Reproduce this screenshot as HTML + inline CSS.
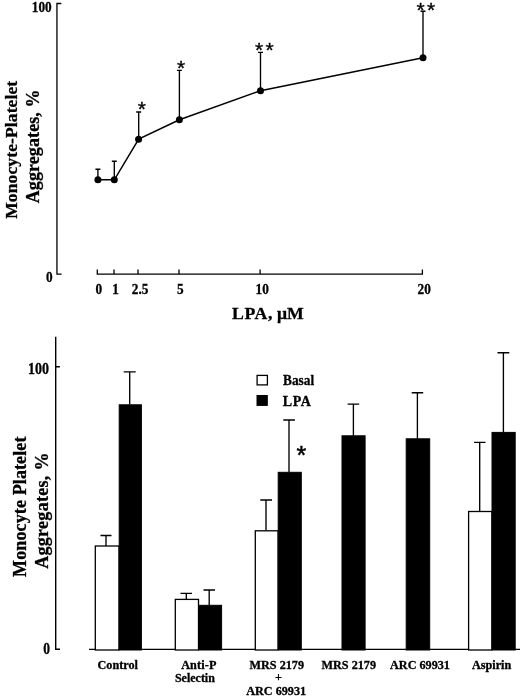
<!DOCTYPE html>
<html lang="en">
<head>
<meta charset="utf-8">
<title>Monocyte-Platelet Aggregates</title>
<style>
  html, body { margin: 0; padding: 0; background: #fff; }
  body { width: 520px; height: 700px; overflow: hidden; }
  svg { display: block; will-change: transform; }
  text { font-family: "Liberation Serif", serif; font-weight: bold; fill: #000; stroke: #000; stroke-width: 0.3px; }
  .star { font-family: "Liberation Sans", sans-serif; font-weight: normal; font-size: 21px; stroke:#000; stroke-width:0.35; }
  .tick { font-size: 13px; }
  .ylab { font-size: 17.5px; }
  .ylab2 { font-size: 18px; }
  .xlab { font-size: 17.5px; }
  .cat { font-size: 12.2px; text-anchor: middle; }
  .leg { font-size: 14px; }
  .ln { stroke: #000; stroke-width: 1.3; fill: none; }
  .eb { stroke: #000; stroke-width: 1.35; fill: none; }
  .wb { fill: #fff; stroke: #000; stroke-width: 1.3; }
  .bb { fill: #000; stroke: #000; stroke-width: 1; }
</style>
</head>
<body>
<svg width="520" height="700" viewBox="0 0 520 700">
  <rect x="0" y="0" width="520" height="700" fill="#fff"/>

  <!-- ============ TOP CHART ============ -->
  <g id="top">
    <!-- y axis -->
    <path class="ln" d="M61.3 3.5 H56.95 V274.1 H61.6"/>
    <text class="tick" style="font-size:13.8px" transform="translate(31.8 11.7) scale(0.96 1)">100</text>
    <text class="tick" style="font-size:13.8px" transform="translate(45.9 282.2) scale(0.96 1)">0</text>
    <!-- x axis -->
    <path class="ln" d="M97.3 269.4 V274.1 H422.4 V269.4 M114 269.4 V274.1 M138 269.4 V274.1 M179 269.4 V274.1 M260.1 269.4 V274.1"/>
    <text class="tick" style="font-size:13.8px" transform="translate(95.5 293.9) scale(0.96 1)">0</text>
    <text class="tick" style="font-size:13.8px" transform="translate(112.2 293.9) scale(0.96 1)">1</text>
    <text class="tick" style="font-size:13.8px" transform="translate(131.8 293.9) scale(0.96 1)">2.5</text>
    <text class="tick" style="font-size:13.8px" transform="translate(177.0 293.9) scale(0.96 1)">5</text>
    <text class="tick" style="font-size:13.8px" transform="translate(255.6 293.9) scale(0.96 1)">10</text>
    <text class="tick" style="font-size:13.8px" transform="translate(417.6 293.9) scale(0.96 1)">20</text>
    <text class="xlab" style="font-size:17.7px" x="232" y="319.2"><tspan style="letter-spacing:0.6px">LPA</tspan><tspan style="letter-spacing:0.1px">, μM</tspan></text>
    <!-- y label -->
    <text class="ylab" style="letter-spacing:0.12px" transform="translate(16.6 218.8) rotate(-90)">Monocyte-Platelet</text>
    <text class="ylab" style="font-size:18px;letter-spacing:0.1px" transform="translate(38.8 203.3) rotate(-90)">Aggregates, %</text>
    <!-- error bars -->
    <path class="eb" d="M97.9 179.8 V169.2 M95.4 169.2 H100.4
                         M114.3 179.8 V161.2 M111.8 161.2 H116.8
                         M138.7 139 V112 M136.2 112 H141.2
                         M179.4 119.8 V70.3 M176.9 70.3 H181.9
                         M260.5 90.7 V52.4 M258 52.4 H263
                         M423 57.7 V11.2 M420.5 11.2 H425.5"/>
    <!-- line -->
    <path class="ln" style="stroke-width:1.5" d="M97.9 179.8 L114.3 179.8 L138.7 139 L179.4 119.8 L260.5 90.7 L423 57.8"/>
    <!-- points -->
    <g fill="#000">
      <circle cx="97.9" cy="179.8" r="3.5"/>
      <circle cx="114.3" cy="179.8" r="3.5"/>
      <circle cx="138.6" cy="139.2" r="3.5"/>
      <circle cx="179.4" cy="119.8" r="3.5"/>
      <circle cx="260.5" cy="90.7" r="3.5"/>
      <circle cx="423" cy="57.7" r="3.5"/>
    </g>
    <!-- stars -->
    <text class="star" x="137.7" y="116">*</text>
    <text class="star" x="177" y="75">*</text>
    <text class="star" style="letter-spacing:2.3px" x="255" y="57">**</text>
    <text class="star" style="letter-spacing:2.3px" x="416.5" y="17.1">**</text>
  </g>

  <!-- ============ BOTTOM CHART ============ -->
  <g id="bottom">
    <!-- y axis -->
    <path class="ln" style="stroke-width:1.4" d="M55.7 336.7 V649.2 H60 M55.7 366.8 H59.9"/>
    <text class="tick" style="font-size:15.8px" transform="translate(28.1 373.7) scale(0.885 1)">100</text>
    <text class="tick" style="font-size:15.8px" transform="translate(43.35 653.7) scale(0.86 1)">0</text>
    <!-- baseline -->
    <path class="ln" d="M89 649.3 H520"/>
    <!-- y label -->
    <text class="ylab2" style="letter-spacing:0.12px" transform="translate(25.9 576.9) rotate(-90)">Monocyte Platelet</text>
    <text class="ylab2" style="letter-spacing:0.3px" transform="translate(47.9 568.8) rotate(-90)">Aggregates, %</text>

    <!-- error bars -->
    <path class="eb" d="M106 546 V535.5 M100.5 535.5 H111.5
                         M129.7 404.5 V371.8 M123.7 371.8 H135.7
                         M186.3 599.2 V593.4 M180.5 593.4 H192
                         M209.2 605 V590 M203.5 590 H215
                         M266 530.6 V500 M260.3 500 H272
                         M289 472 V420 M283.3 420 H294.9
                         M353.4 436 V404.1 M347.6 404.1 H359.2
                         M417.4 439 V392.7 M411.7 392.7 H423.2
                         M479.7 511.3 V442.4 M474 442.4 H485.5
                         M503.4 432 V352.7 M497.5 352.7 H509.3"/>
    <!-- bars: Control -->
    <rect class="wb" x="95.3" y="546" width="23.7" height="104"/>
    <rect class="bb" x="119.2" y="404.8" width="22.2" height="245.2"/>
    <!-- Anti-P Selectin -->
    <rect class="wb" x="175.3" y="599.4" width="23.2" height="50.6"/>
    <rect class="bb" x="198.6" y="605.3" width="23" height="44.7"/>
    <!-- MRS 2179 + ARC 69931 -->
    <rect class="wb" x="255.3" y="530.8" width="22.8" height="119.2"/>
    <rect class="bb" x="278.2" y="472.3" width="23.1" height="177.7"/>
    <!-- MRS 2179 -->
    <rect class="bb" x="342" y="435.8" width="23.1" height="214.2"/>
    <!-- ARC 69931 -->
    <rect class="bb" x="406.2" y="438.8" width="23.5" height="211.2"/>
    <!-- Aspirin -->
    <rect class="wb" x="468.6" y="511.5" width="23.3" height="138.5"/>
    <rect class="bb" x="492" y="432.4" width="23.2" height="217.6"/>

    <text class="star" style="font-size:25px;stroke-width:0.5px" x="296.6" y="464.4">*</text>

    <!-- legend -->
    <rect class="wb" x="257.1" y="375.4" width="10.3" height="9.5"/>
    <rect class="bb" x="257" y="395.5" width="10.3" height="9.9"/>
    <text class="leg" style="font-size:14.2px" transform="translate(283 384.6) scale(0.94 1)">Basal</text>
    <text class="leg" style="letter-spacing:0.6px" x="282.8" y="405.8">LPA</text>

    <!-- category labels -->
    <text class="cat" x="117.7" y="668.6">Control</text>
    <text class="cat" style="letter-spacing:0.15px" x="198.9" y="668.8">Anti-P</text>
    <text class="cat" style="font-size:12px" x="194.9" y="681.7">Selectin</text>
    <text class="cat" x="276.8" y="668.5">MRS 2179</text>
    <text class="cat" x="278.5" y="681.3">+</text>
    <text class="cat" x="276.2" y="694.9">ARC 69931</text>
    <text class="cat" x="348.8" y="668.8">MRS 2179</text>
    <text class="cat" x="420" y="668.8">ARC 69931</text>
    <text class="cat" x="491.6" y="668.8">Aspirin</text>
  </g>
</svg>
</body>
</html>
